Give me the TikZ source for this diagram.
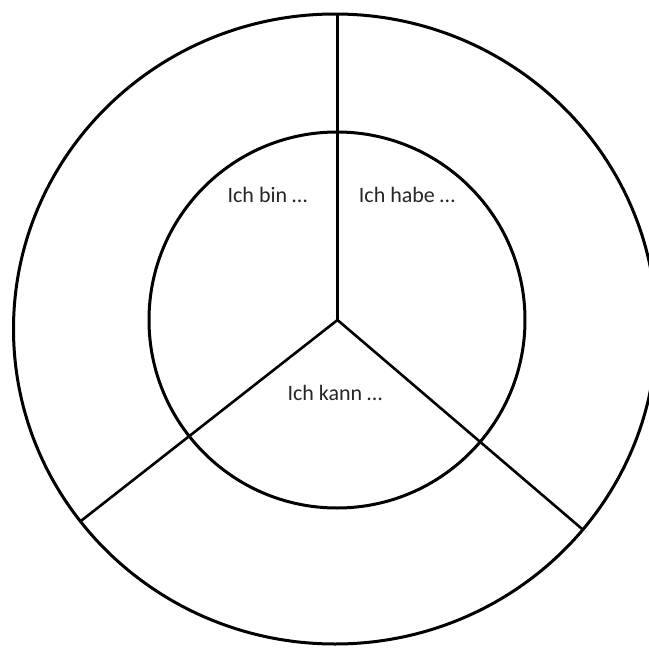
\documentclass[tikz,border=0pt]{standalone}
\usepackage{fontspec}
\setmainfont{Carlito}
\begin{document}
\begin{tikzpicture}[x=1pt,y=-1pt,
  ring/.style={draw=black,line width=3pt},
  spoke/.style={draw=black,line width=2.6pt},
  lbl/.style={font=\fontsize{22}{26}\selectfont,text=black!85,inner sep=0pt}]
\useasboundingbox (0,0) rectangle (649,648);
\clip (0,0) rectangle (649,648);
\fill[white] (0,0) rectangle (649,648);
\coordinate (c) at (337.5,320);
\coordinate (top) at (337.5,14);
\coordinate (ll) at (80,521.7);
\coordinate (lr) at (583.3,530);
\draw[ring] (335,329) ellipse [x radius=321.5pt, y radius=315pt];
\draw[ring] (337,320) circle [radius=188pt];
\draw[spoke] (c) -- (top);
\draw[spoke] (c) -- (ll);
\draw[spoke] (c) -- (lr);
\node[lbl] (bin) at (267.5,195) {Ich bin …};
\node[lbl] (habe) at (407,195) {Ich habe …};
\node[lbl] (kann) at (335,393) {Ich kann …};
\end{tikzpicture}
\end{document}
